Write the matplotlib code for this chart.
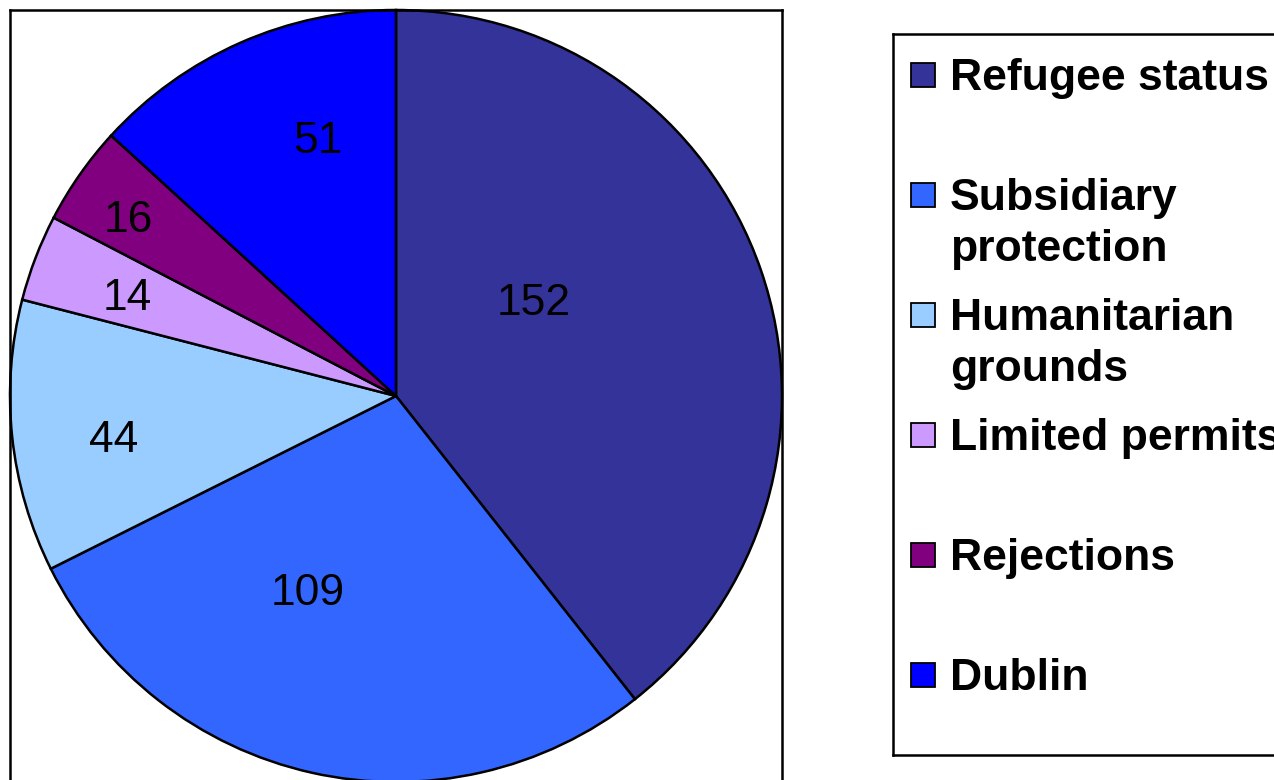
import numpy as np
import matplotlib
matplotlib.use("Agg")
from matplotlib import pyplot as plt
from matplotlib.patches import Rectangle

plt.rcParams['font.family'] = ['Liberation Sans', 'DejaVu Sans']

categories = ["Refugee status", "Subsidiary\nprotection", "Humanitarian\ngrounds",
              "Limited permits", "Rejections", "Dublin"]
values = [152, 109, 44, 14, 16, 51]
colors = ["#333399", "#3366FF", "#99CCFF", "#CC99FF", "#800080", "#0000FF"]

# label placement (radius fraction, angle shift in degrees from slice middle)
label_r = [0.43, 0.56, 0.74, 0.74, 0.83, 0.69]
label_shift = [14.7, -11.4, 2.8, 1.0, 1.7, -6.8]

W, H = 1274, 780
fig = plt.figure(figsize=(W / 100, H / 100), dpi=100)

# pie area, box runs off the bottom of the image
ax = fig.add_axes([10 / W, -10 / H, 772 / W, 1.0])
ax.pie(values, colors=colors, startangle=90, counterclock=False,
       radius=1.0, center=(0, 0),
       wedgeprops=dict(edgecolor="black", linewidth=1.8))
ax.set_aspect('auto')
ax.set_xlim(-1.0, 1.0)
ax.set_ylim(-780 / 386 + 1.0, 1.0)
ax.set_xticks([])
ax.set_yticks([])
ax.set_frame_on(True)
for s in ax.spines.values():
    s.set_visible(True)
    s.set_linewidth(1.8)
    s.set_color("black")

total = sum(values)
start = 90.0
for v, r, sh in zip(values, label_r, label_shift):
    span = v / total * 360
    mid = np.deg2rad(start - span / 2 + sh)
    ax.text(r * np.cos(mid), r * np.sin(mid), str(v), fontsize=32,
            ha="center", va="center", color="black")
    start -= span

# legend drawn in pixel coordinates
lax = fig.add_axes([893 / W, (H - 755) / H, (1300 - 893) / W, (755 - 34) / H])
lax.set_xlim(893, 1300)
lax.set_ylim(755, 34)
lax.set_xticks([])
lax.set_yticks([])
for s in lax.spines.values():
    s.set_linewidth(1.8)
    s.set_color("black")

y0 = 75
step = 120
for i, (lab, c) in enumerate(zip(categories, colors)):
    y = y0 + i * step
    lax.add_patch(Rectangle((911, y - 12), 24, 24, facecolor=c,
                            edgecolor="black", linewidth=1.3))
    lax.text(950, y - 17, lab, fontsize=32, fontweight="bold", ha="left",
             va="top", linespacing=1.3)

fig.savefig("out.png", dpi=100)
